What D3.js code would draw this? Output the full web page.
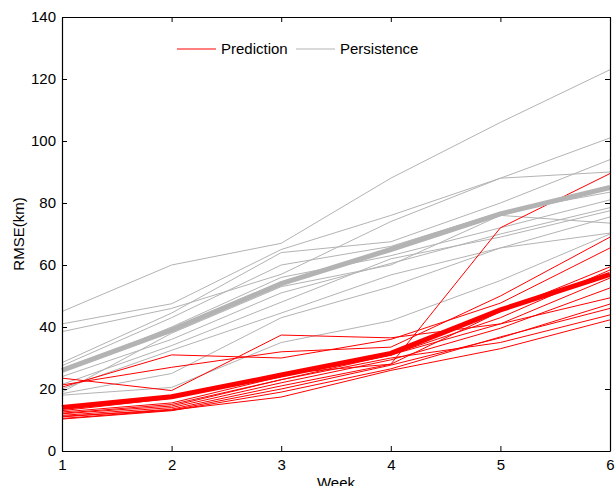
<!DOCTYPE html>
<html>
<head>
<meta charset="utf-8">
<script src="https://cdn.jsdelivr.net/npm/d3@7"></script>
<style>
  body { margin: 0; background: #fff; }
  text { font-family: "Liberation Sans", Arial, sans-serif; }
</style>
</head>
<body>
<div id="chart"></div>
<script>
const width = 615,
    height = 486,
    margin = { top: 17, right: 5, bottom: 35, left: 62 };

const innerWidth = width - margin.left - margin.right,
    innerHeight = height - margin.top - margin.bottom;

// data
const weeks = [1, 2, 3, 4, 5, 6];
const yTicks = [0, 20, 40, 60, 80, 100, 120, 140];

// persistence, one row per case
const persistence = [
  [45, 60, 67, 88, 106, 123],
  [41, 47.5, 65, 76, 88, 101],
  [38.5, 46, 57, 74, 88, 90],
  [28.5, 44.5, 64, 67.5, 80, 94],
  [27.5, 43, 60, 66, 77, 83.5],
  [25.5, 40, 56, 63, 72, 81],
  [24, 36, 51, 60.5, 70, 78.5],
  [21.5, 34, 48, 62, 69, 77.5],
  [20, 32.5, 44.5, 56.8, 65.5, 75.5],
  [19, 38, 53, 60, 76, 73.5],
  [18.5, 25, 43, 53, 65.5, 70.3],
  [18, 20.5, 35, 42, 55, 70]
];
const persistenceMean = [26, 39, 54, 65, 76.5, 85];

// prediction, one row per case
const prediction = [
  [23.5, 19.5, 37.4, 36.5, 41, 49.4],
  [20.6, 31, 30, 36, 47.7, 65.5],
  [21.3, 27, 32, 33.5, 50, 69],
  [13, 17, 25, 28, 72, 89.5],
  [12.6, 15.5, 24, 31, 43, 58.4],
  [12.2, 15, 23, 31, 41, 55.8],
  [11.5, 14, 22, 29.4, 39.6, 52.6],
  [11, 13.5, 21, 28, 45, 59.4],
  [10.5, 13.2, 20, 27.7, 36.5, 47.4],
  [10.3, 13, 19, 26.5, 36.8, 46],
  [12, 14.5, 23, 30, 35, 43.9],
  [11.2, 13.2, 17.4, 26, 33, 42.3]
];
const predictionMean = [14, 17.5, 24.5, 31.5, 45.5, 57];

const svg = d3.select("#chart")
  .append("svg")
  .attr("width", width)
  .attr("height", height)
  .append("g")
  .attr("transform", `translate(${margin.left}, ${margin.top})`);

const xScale = d3.scaleLinear()
  .domain([1, 6])
  .range([0, innerWidth]);

const yScale = d3.scaleLinear()
  .domain([0, 140])
  .range([innerHeight, 0]);

const line = d3.line()
  .x((d, i) => xScale(weeks[i]))
  .y(d => yScale(d));

const grey = "#b3b3b3";

// thin lines
svg.selectAll(".pers")
  .data(persistence)
  .join("path")
  .attr("class", "pers")
  .attr("d", line)
  .attr("fill", "none")
  .attr("stroke", grey)
  .attr("stroke-width", 1);

svg.selectAll(".pred")
  .data(prediction)
  .join("path")
  .attr("class", "pred")
  .attr("d", line)
  .attr("fill", "none")
  .attr("stroke", "#ff0000")
  .attr("stroke-width", 1);

// mean lines
svg.append("path")
  .datum(persistenceMean)
  .attr("d", line)
  .attr("fill", "none")
  .attr("stroke", grey)
  .attr("stroke-width", 5);

svg.append("path")
  .datum(predictionMean)
  .attr("d", line)
  .attr("fill", "none")
  .attr("stroke", "#ff0000")
  .attr("stroke-width", 5);

// axes, matlab style box with inward ticks
const xAxis = d3.axisBottom(xScale).tickValues(weeks).tickFormat(d3.format("d")).tickSizeInner(-5).tickSizeOuter(0).tickPadding(8);
const yAxis = d3.axisLeft(yScale).tickValues(yTicks).tickSizeInner(-5).tickSizeOuter(0).tickPadding(6);

const gx = svg.append("g")
  .attr("transform", `translate(0, ${innerHeight})`)
  .call(xAxis);
const gy = svg.append("g").call(yAxis);

svg.append("g")
  .call(d3.axisTop(xScale).tickValues(weeks).tickSizeInner(-5).tickSizeOuter(0).tickFormat(""));
svg.append("g")
  .attr("transform", `translate(${innerWidth}, 0)`)
  .call(d3.axisRight(yScale).tickValues(yTicks).tickSizeInner(-5).tickSizeOuter(0).tickFormat(""));

svg.selectAll(".domain").attr("stroke", "#000").attr("stroke-width", 1.2);
svg.selectAll(".tick line").attr("stroke", "#000");
[gx, gy].forEach(g => g.selectAll("text")
  .style("font-size", "15px")
  .style("font-family", "Liberation Sans, Arial, sans-serif")
  .attr("fill", "#000"));

// axis labels
svg.append("text")
  .attr("transform", "rotate(-90)")
  .attr("x", -innerHeight / 2 + 0)
  .attr("y", -margin.left + 24)
  .style("text-anchor", "middle")
  .style("font-size", "15px")
  .text("RMSE(km)");

svg.append("text")
  .attr("x", innerWidth / 2)
  .attr("y", innerHeight + 37)
  .style("text-anchor", "middle")
  .style("font-size", "15px")
  .text("Week");

// legend
const legend = [
  { name: "Prediction", color: "#ff0000", x: 115 },
  { name: "Persistence", color: grey, x: 234 }
];
legend.forEach(l => {
  svg.append("line")
    .attr("x1", l.x).attr("x2", l.x + 39)
    .attr("y1", 32).attr("y2", 32)
    .attr("stroke", l.color)
    .attr("stroke-width", 1);
  svg.append("text")
    .attr("x", l.x + 44)
    .attr("y", 37)
    .style("font-size", "15px")
    .text(l.name);
});
</script>
</body>
</html>
